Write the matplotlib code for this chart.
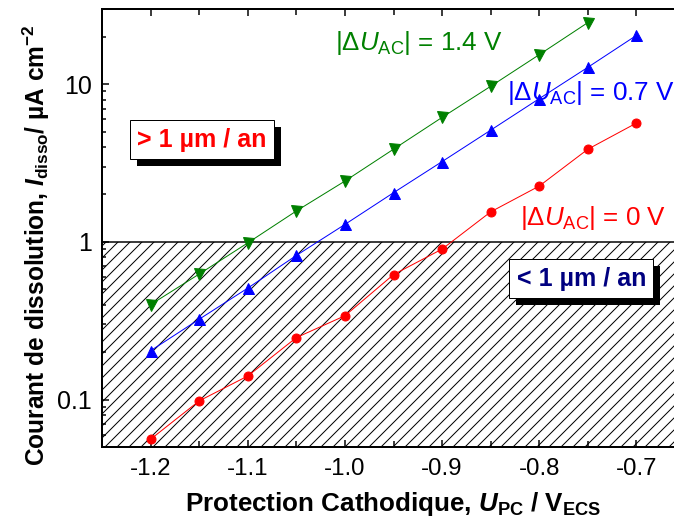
import matplotlib
matplotlib.use("Agg")
import matplotlib.pyplot as plt
import matplotlib.transforms as mtransforms
from matplotlib.patches import Rectangle
from matplotlib.ticker import FixedLocator, FixedFormatter, LogLocator, MultipleLocator, NullFormatter

# --- dati ---
upc = [-1.2, -1.15, -1.1, -1.05, -1.0, -0.95, -0.9, -0.85, -0.8, -0.75, -0.7]
i_0v = [0.056, 0.098, 0.141, 0.247, 0.34, 0.62, 0.90, 1.55, 2.26, 3.87, 5.67]
i_07v = [0.204, 0.323, 0.509, 0.82, 1.29, 2.05, 3.23, 5.11, 8.1, 12.8, 20.4]
upc_14v = [-1.2, -1.15, -1.1, -1.05, -1.0, -0.95, -0.9, -0.85, -0.8, -0.75]
i_14v = [0.40, 0.625, 0.985, 1.57, 2.43, 3.87, 6.16, 9.7, 15.4, 24.6]
seuil = 1.0  # 1 um / an
ytick_vals = [0.1, 1, 10]
ytick_labels = ["0.1", "1", "10"]
xtick_vals = [-1.2, -1.1, -1.0, -0.9, -0.8, -0.7]
xtick_labels = ["-1.2", "-1.1", "-1.0", "-0.9", "-0.8", "-0.7"]

plt.rcParams["font.family"] = ["Liberation Sans", "DejaVu Sans"]
plt.rcParams["mathtext.fontset"] = "custom"
plt.rcParams["mathtext.rm"] = "Liberation Sans"
plt.rcParams["mathtext.it"] = "Liberation Sans:italic"
plt.rcParams["mathtext.bf"] = "Liberation Sans:bold"
plt.rcParams["mathtext.bfit"] = "Liberation Sans:bold:italic"
plt.rcParams["hatch.linewidth"] = 1.0

DPI = 72
fig = plt.figure(figsize=(674 / DPI, 529 / DPI), dpi=DPI)
# l'asse destro esce dall'immagine come nell'originale
ax = fig.add_axes([102 / 674, 82 / 529, 583 / 674, 438 / 529])

# zona tratteggiata sotto 1 uA/cm2
ax.axhspan(0.05, seuil, facecolor="none", edgecolor="black", hatch="//", linewidth=0, zorder=1)
ax.axhline(seuil, color="black", linewidth=1.5, zorder=2)

ax.plot(upc, i_0v, color="red", marker="o", markersize=9, linewidth=1, zorder=3)
ax.plot(upc, i_07v, color="blue", marker="^", markersize=11, linewidth=1, zorder=3)
ax.plot(upc_14v, i_14v, color="green", marker="v", markersize=11, linewidth=1, zorder=3)

ax.set_yscale("log")
ax.set_xlim(-1.25, -0.65)
ax.set_ylim(0.05, 30)

ax.xaxis.set_major_locator(FixedLocator(xtick_vals))
ax.xaxis.set_major_formatter(FixedFormatter(xtick_labels))
ax.xaxis.set_minor_locator(MultipleLocator(0.05))
ax.yaxis.set_major_locator(FixedLocator(ytick_vals))
ax.yaxis.set_major_formatter(FixedFormatter(ytick_labels))
ax.yaxis.set_minor_locator(LogLocator(base=10, subs=range(2, 10)))
ax.yaxis.set_minor_formatter(NullFormatter())

ax.tick_params(which="both", direction="in", top=True, right=True, width=1.5)
ax.tick_params(which="major", length=7)
ax.tick_params(which="minor", length=4)
ax.tick_params(axis="x", which="minor", length=6)
ax.tick_params(axis="x", labelsize=24, pad=11)
ax.tick_params(axis="y", labelsize=25, pad=10)
for sp in ax.spines.values():
    sp.set_linewidth(2)

ax.set_xlabel(r"Protection Cathodique, $\mathbfit{U}_{\mathbf{PC}}$ / V$_{\mathbf{ECS}}$",
              fontsize=26, fontweight="bold", labelpad=10)
ax.set_ylabel(r"Courant de dissolution, $\mathbfit{I}_{\mathbf{disso}}$/ µA cm$^{\mathbf{-2}}$",
              fontsize=24.5, fontweight="bold")
ax.yaxis.set_label_coords(-0.086, 0.46)

# etichette delle serie
ax.text(0.400, 0.922, r"|Δ$\mathit{U}_{\mathrm{AC}}$| = 1.4 V", color="green", fontsize=26,
        transform=ax.transAxes, va="center", ha="left", zorder=4)
ax.text(0.695, 0.808, r"|Δ$\mathit{U}_{\mathrm{AC}}$| = 0.7 V", color="blue", fontsize=26,
        transform=ax.transAxes, va="center", ha="left", zorder=4)
ax.text(0.717, 0.523, r"|Δ$\mathit{U}_{\mathrm{AC}}$| = 0 V", color="red", fontsize=26,
        transform=ax.transAxes, va="center", ha="left", zorder=4)

riquadri = []
for x, y, testo, colore in [(0.171, 0.701, "> 1 µm / an", "red"),
                            (0.822, 0.384, "< 1 µm / an", "navy")]:
    t = ax.text(x, y, testo, color=colore, transform=ax.transAxes, zorder=6,
                fontsize=25, fontweight="bold", ha="center", va="center",
                bbox=dict(boxstyle="square,pad=0.3", facecolor="white",
                          edgecolor="black", linewidth=1))
    riquadri.append(t)

# ombra nera dietro i riquadri
fig.canvas.draw()
for t in riquadri:
    bb = t.get_bbox_patch().get_window_extent()
    ax.add_patch(Rectangle((bb.x0 + 7, bb.y0 - 7), bb.width, bb.height,
                           transform=mtransforms.IdentityTransform(),
                           facecolor="black", edgecolor="none", zorder=5, clip_on=False))

fig.savefig("out.png", dpi=DPI)
